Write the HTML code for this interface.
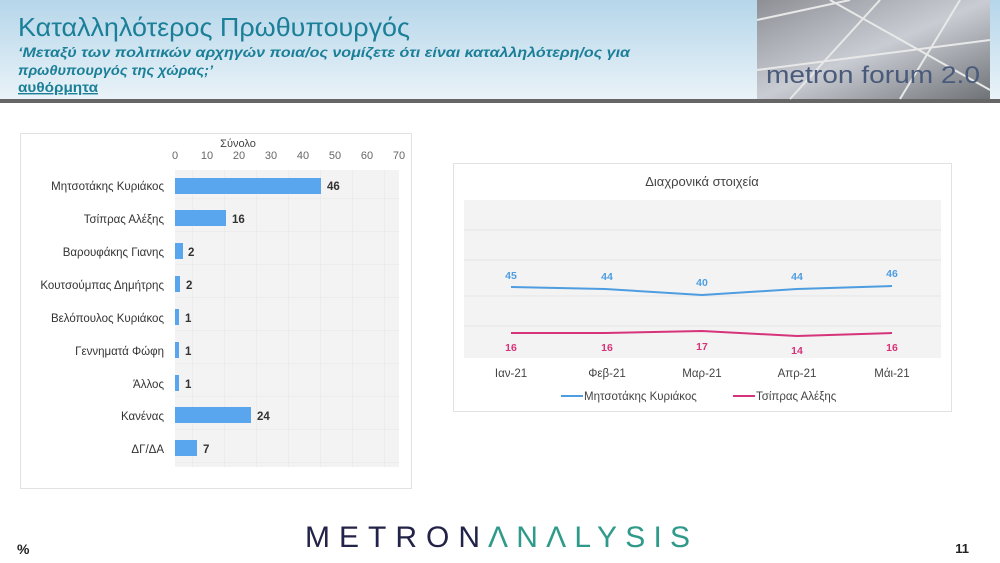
<!DOCTYPE html>
<html><head><meta charset="utf-8"><style>
html,body{margin:0;padding:0;width:1000px;height:563px;overflow:hidden;background:#fff;font-family:"Liberation Sans","DejaVu Sans",sans-serif}
</style></head><body>
<svg width="1000" height="563" viewBox="0 0 1000 563" xmlns="http://www.w3.org/2000/svg" font-family="Liberation Sans, DejaVu Sans, sans-serif">
<defs>
<linearGradient id="hg" x1="0" y1="0" x2="0" y2="1"><stop offset="0" stop-color="#b5d6ea"/><stop offset="1" stop-color="#eaf3f8"/></linearGradient>
<linearGradient id="lg" x1="0" y1="0" x2="1" y2="1"><stop offset="0" stop-color="#8d8f95"/><stop offset="0.5" stop-color="#c9cdd3"/><stop offset="1" stop-color="#6f7277"/></linearGradient>
<pattern id="grid" width="32" height="33" patternUnits="userSpaceOnUse"><rect width="32" height="33" fill="#f3f3f3"/><path d="M0 0H32M0 0V33" stroke="#e4e4e4" stroke-width="1"/></pattern>
</defs>
<rect x="0" y="0" width="1000" height="100" fill="url(#hg)"/>
<rect x="0" y="99" width="1000" height="4" fill="#666"/>
<rect x="757" y="0" width="233" height="99" fill="url(#lg)"/>
<path d="M757 20L850 0M790 99L880 0M900 99L960 0M757 70L990 40M830 0L990 90" stroke="#e8e8e8" stroke-width="2" fill="none"/>
<text x="766" y="83" font-size="24" fill="#4a5a7a" textLength="214" lengthAdjust="spacingAndGlyphs">metron forum 2.0</text>
<text x="18" y="36" font-size="26" fill="#1a7f97" textLength="392" lengthAdjust="spacingAndGlyphs">Καταλληλότερος Πρωθυπουργός</text>
<text x="18" y="57" font-size="14" font-style="italic" font-weight="bold" fill="#1a7f97" textLength="612" lengthAdjust="spacingAndGlyphs">‘Μεταξύ των πολιτικών αρχηγών ποια/ος νομίζετε ότι είναι καταλληλότερη/ος για</text>
<text x="18" y="75" font-size="14" font-style="italic" font-weight="bold" fill="#1a7f97" textLength="195" lengthAdjust="spacingAndGlyphs">πρωθυπουργός της χώρας;’</text>
<text x="18" y="92" font-size="14" font-weight="bold" fill="#1a7f97" text-decoration="underline" textLength="80" lengthAdjust="spacingAndGlyphs">αυθόρμητα</text>

<rect x="20.5" y="133.5" width="391" height="355" fill="#fff" stroke="#e2e2e2"/>
<rect x="175" y="170" width="224" height="297" fill="url(#grid)"/>
<text x="238" y="147" font-size="11" fill="#444" text-anchor="middle">Σύνολο</text>
<g font-size="11" fill="#666" text-anchor="middle">
<text x="175" y="159">0</text><text x="207" y="159">10</text><text x="239" y="159">20</text><text x="271" y="159">30</text><text x="303" y="159">40</text><text x="335" y="159">50</text><text x="367" y="159">60</text><text x="399" y="159">70</text></g>
<g font-size="11.5" fill="#333" text-anchor="end">
<text x="164" y="190">Μητσοτάκης Κυριάκος</text>
<text x="164" y="223">Τσίπρας Αλέξης</text>
<text x="164" y="256">Βαρουφάκης Γιανης</text>
<text x="164" y="289">Κουτσούμπας  Δημήτρης</text>
<text x="164" y="322">Βελόπουλος Κυριάκος</text>
<text x="164" y="355">Γεννηματά Φώφη</text>
<text x="164" y="388">Άλλος</text>
<text x="164" y="420">Κανένας</text>
<text x="164" y="453">ΔΓ/ΔΑ</text></g>
<g fill="#5aa6ee">
<rect x="175" y="178" width="146" height="16"/>
<rect x="175" y="210" width="51" height="16"/>
<rect x="175" y="243" width="8" height="16"/>
<rect x="175" y="276" width="5" height="16"/>
<rect x="175" y="309" width="4" height="16"/>
<rect x="175" y="342" width="4" height="16"/>
<rect x="175" y="375" width="4" height="16"/>
<rect x="175" y="407" width="76" height="16"/>
<rect x="175" y="440" width="22" height="16"/></g>
<g font-size="11.5" fill="#333" font-weight="bold">
<text x="327" y="190">46</text><text x="232" y="223">16</text><text x="188" y="256">2</text><text x="186" y="289">2</text><text x="185" y="322">1</text><text x="185" y="355">1</text><text x="185" y="388">1</text><text x="257" y="420">24</text><text x="203" y="453">7</text></g>

<rect x="453.5" y="163.5" width="498" height="248" fill="#fff" stroke="#e2e2e2"/>
<text x="702" y="186" font-size="13" fill="#444" text-anchor="middle">Διαχρονικά στοιχεία</text>
<rect x="464" y="200" width="477" height="158" fill="#f3f3f3"/>
<g stroke="#e6e6e6"><line x1="464" y1="230" x2="941" y2="230"/><line x1="464" y1="260" x2="941" y2="260"/><line x1="464" y1="296" x2="941" y2="296"/><line x1="464" y1="326" x2="941" y2="326"/></g>
<polyline points="511,287 605,289 702,295 797,289 892,286" fill="none" stroke="#4d9de0" stroke-width="2"/>
<polyline points="511,333 605,333 702,331 797,336 892,333" fill="none" stroke="#d6337a" stroke-width="2"/>
<g font-size="10.5" fill="#4d9de0" text-anchor="middle" font-weight="bold"><text x="511" y="279">45</text><text x="607" y="280">44</text><text x="702" y="286">40</text><text x="797" y="280">44</text><text x="892" y="277">46</text></g>
<g font-size="10.5" fill="#d6337a" text-anchor="middle" font-weight="bold"><text x="511" y="351">16</text><text x="607" y="351">16</text><text x="702" y="350">17</text><text x="797" y="354">14</text><text x="892" y="351">16</text></g>
<g font-size="11.5" fill="#444" text-anchor="middle"><text x="511" y="377">Ιαν-21</text><text x="607" y="377">Φεβ-21</text><text x="702" y="377">Μαρ-21</text><text x="797" y="377">Απρ-21</text><text x="892" y="377">Μάι-21</text></g>
<line x1="561" y1="396" x2="583" y2="396" stroke="#4d9de0" stroke-width="2"/>
<text x="584" y="400" font-size="11.5" fill="#444">Μητσοτάκης Κυριάκος</text>
<line x1="733" y1="396" x2="755" y2="396" stroke="#d6337a" stroke-width="2"/>
<text x="756" y="400" font-size="11.5" fill="#444">Τσίπρας Αλέξης</text>

<text x="305" y="547" font-size="30" fill="#23234a" textLength="175" lengthAdjust="spacing">METRON</text>
<text x="488" y="547" font-size="30" fill="#2f9a8a" textLength="202" lengthAdjust="spacing">ΛNΛLYSIS</text>
<text x="17" y="554" font-size="14" font-weight="bold" fill="#222">%</text>
<text x="969" y="553" font-size="13" font-weight="bold" fill="#222" text-anchor="end">11</text>
</svg>
</body></html>
